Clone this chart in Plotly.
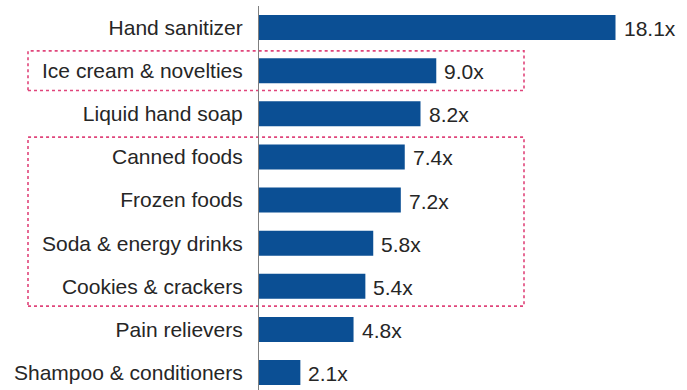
import plotly.graph_objects as go

categories = ["Hand sanitizer", "Ice cream & novelties", "Liquid hand soap", "Canned foods",
              "Frozen foods", "Soda & energy drinks", "Cookies & crackers", "Pain relievers",
              "Shampoo & conditioners"]
values = [18.1, 9.0, 8.2, 7.4, 7.2, 5.8, 5.4, 4.8, 2.1]
labels = [f"{v:.1f}x" for v in values]
boxed_groups = [(1, 1), (3, 6)]  # index ranges of highlighted categories

W, H = 687, 390
L, R, T, B = 259, 0, 6, 0
y_top, y_bot = -0.5, 8.404
x_max = 21.73
FONT = "Liberation Sans, Arial, sans-serif"
TXT = "#262626"

fig = go.Figure(go.Bar(
    y=categories, x=values, orientation="h",
    marker=dict(color="#0B4F94", line=dict(width=0)),
    width=0.58, hoverinfo="skip",
))

for c, v, t in zip(categories, values, labels):
    fig.add_annotation(x=v, y=c, xref="x", yref="y", text=t, showarrow=False,
                       xanchor="left", yanchor="middle", xshift=6, yshift=-1,
                       font=dict(family=FONT, size=21, color=TXT))

plot_w = W - L - R
def px_to_paper_x(px):
    return (px - L) / plot_w
def idx_to_paper_y(v):
    return (y_bot - v) / (y_bot - y_top)

shapes = []
for a, b in boxed_groups:
    shapes.append(dict(
        type="rect", xref="paper", yref="paper",
        x0=px_to_paper_x(28), x1=px_to_paper_x(524),
        y0=idx_to_paper_y(b + 0.46), y1=idx_to_paper_y(a - 0.46),
        line=dict(color="#E0457B", width=1.6, dash="dot"),
        fillcolor="rgba(0,0,0,0)", layer="below",
    ))

fig.update_layout(
    width=W, height=H,
    margin=dict(l=L, r=R, t=T, b=B, pad=0),
    paper_bgcolor="white", plot_bgcolor="white",
    showlegend=False,
    shapes=shapes,
    font=dict(family=FONT, size=21, color=TXT),
    xaxis=dict(visible=False, range=[0, x_max], fixedrange=True),
    yaxis=dict(type="category", range=[y_bot, y_top], showline=True, linecolor="#7F7F7F",
               linewidth=1, showgrid=False, zeroline=False, ticks="", ticklabelstandoff=11,
               tickfont=dict(family=FONT, size=21, color=TXT)),
)

fig.write_html("out.html")
